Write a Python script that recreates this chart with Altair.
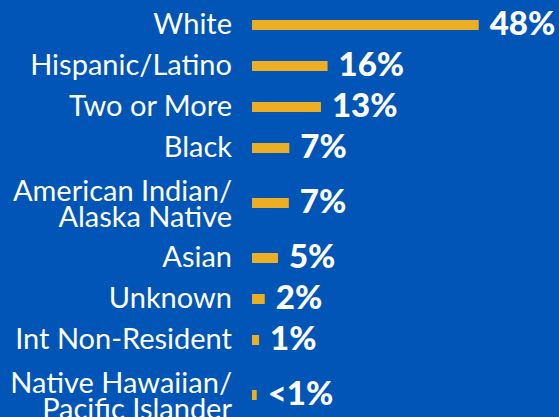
import altair as alt
import pandas as pd

categories = ["White", "Hispanic/Latino", "Two or More", "Black",
              "American Indian/\nAlaska Native", "Asian", "Unknown",
              "Int Non-Resident", "Native Hawaiian/\nPacific Islander"]
value_labels = ["48%", "16%", "13%", "7%", "7%", "5%", "2%", "1%", "<1%"]
bar_values = [48, 16, 14.6, 7.9, 7.8, 5.5, 2.7, 1.5, 1.0]

df = pd.DataFrame({"order": list(range(len(categories))),
                   "cat": categories, "lab": value_labels, "val": bar_values})

BG = "#0055b7"
GOLD = "#ecae22"
SINGLE, DOUBLE = 41, 69
LINE_H = 26

base = alt.Chart(df).transform_calculate(
    rowh=f"indexof(datum.cat, '\\n') >= 0 ? {DOUBLE} : {SINGLE}",
    nlines="indexof(datum.cat, '\\n') >= 0 ? 2 : 1",
    zero="0",
).transform_window(
    cum="sum(rowh)", sort=[alt.SortField("order")], frame=[None, 0]
).transform_calculate(
    center="datum.cum - datum.rowh / 2",
).transform_calculate(
    texty=f"datum.center - (datum.nlines - 1) * {LINE_H} / 2 + (datum.nlines - 1) * 1.5",
)

ys = alt.Scale(domain=[-4.5, 412.5], reverse=True, nice=False, zero=False)
y = alt.Y("center:Q", scale=ys, axis=None)
xs = alt.Scale(domain=[0, 65], nice=False)

bars = base.mark_rule(strokeWidth=10, color=GOLD, strokeCap="butt").encode(
    x=alt.X("zero:Q", scale=xs, axis=None),
    x2="val:Q",
    y=y,
)

cats = base.mark_text(align="right", baseline="middle", lineBreak="\n", lineHeight=LINE_H,
                      font="Lato", fontSize=29, color="white").encode(
    x=alt.value(-20), y=alt.Y("texty:Q", scale=ys, axis=None), text="cat:N")

vals = base.mark_text(align="left", baseline="middle", dx=11, font="Lato",
                      fontSize=33, fontWeight=900, color="white").encode(
    x=alt.X("val:Q", scale=xs, axis=None), y=y, text="lab:N")

chart = alt.layer(bars, cats, vals).properties(
    width=307, height=417, background=BG,
    padding={"left": 252, "top": 0, "right": 0, "bottom": 0},
    autosize=alt.AutoSizeParams(type="none"),
).configure_view(stroke=None)

chart.save("out.html", embed_options={"renderer": "svg", "actions": False})
